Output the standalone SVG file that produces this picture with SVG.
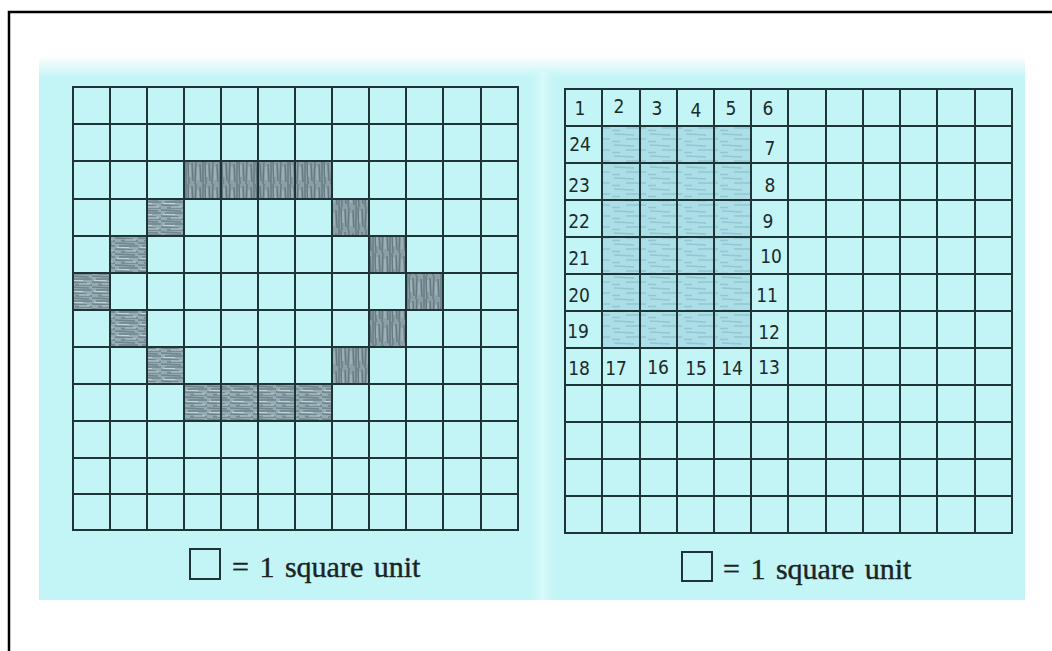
<svg xmlns="http://www.w3.org/2000/svg" width="1052" height="651" viewBox="0 0 1052 651">
<defs>
<linearGradient id="bgfade" gradientUnits="userSpaceOnUse" x1="0" y1="56" x2="0" y2="78">
<stop offset="0" stop-color="#ffffff"/>
<stop offset="1" stop-color="#c3f4f6"/>
</linearGradient>
<linearGradient id="midstrip" gradientUnits="userSpaceOnUse" x1="526" y1="0" x2="560" y2="0">
<stop offset="0" stop-color="#c3f4f6" stop-opacity="0"/>
<stop offset="0.5" stop-color="#dafafa"/>
<stop offset="1" stop-color="#c3f4f6" stop-opacity="0"/>
</linearGradient>
<pattern id="darkhatch" patternUnits="userSpaceOnUse" width="17" height="23">
<rect width="17" height="23" fill="#8b9fa7"/>
<path d="M1 0L2 23M5 2L6 20M9 0L8 23M13 3L14 21M16 0V23" stroke="#667a83" stroke-width="1.4"/>
<path d="M3 4V16M11 6V19" stroke="#aec2c8" stroke-width="1"/>
</pattern>
<pattern id="hhatch" patternUnits="userSpaceOnUse" width="23" height="11">
<rect width="23" height="11" fill="#95acb4"/>
<path d="M0 1L20 2M4 4H23M0 7L18 8M6 10H23" stroke="#6f848d" stroke-width="1.3"/>
<path d="M2 5.5H14M10 9H21" stroke="#c0d3d7" stroke-width="1"/>
</pattern>
<pattern id="lighthatch" patternUnits="userSpaceOnUse" width="36" height="11">
<rect width="36" height="11" fill="#a9dce6"/>
<path d="M2 2L22 3M14 7H34M0 9.5H8" stroke="#8cc1ce" stroke-width="1.4"/>
</pattern>
<style>
.grid{stroke:#1e3436;stroke-width:2;fill:none;stroke-linecap:square}
.num{font-family:"DejaVu Sans Condensed","DejaVu Sans",sans-serif;font-size:19px;fill:#1c2a2b;text-anchor:middle}
.legend{font-family:"Liberation Serif","Times New Roman",serif;font-size:30px;fill:#1a2424;stroke:#1a2424;stroke-width:0.4;word-spacing:3px}
.lbox{fill:none;stroke:#1e3436;stroke-width:2}
</style>
</defs>

<rect x="0" y="0" width="1052" height="651" fill="#ffffff"/>
<rect x="39" y="56" width="986" height="544" fill="url(#bgfade)"/>
<rect x="526" y="70" width="34" height="530" fill="url(#midstrip)"/>
<rect x="9" y="12" width="1100" height="700" fill="none" stroke="#000" stroke-width="2.5"/>

<g id="left-panel">
<g id="left-shading">
<rect x="184" y="161" width="148" height="38" fill="url(#darkhatch)"/>
<rect x="147" y="199" width="37" height="37" fill="url(#hhatch)"/>
<rect x="332" y="199" width="37" height="37" fill="url(#darkhatch)"/>
<rect x="110" y="236" width="37" height="37" fill="url(#hhatch)"/>
<rect x="369" y="236" width="37" height="37" fill="url(#darkhatch)"/>
<rect x="73" y="273" width="37" height="37" fill="url(#hhatch)"/>
<rect x="406" y="273" width="37" height="37" fill="url(#darkhatch)"/>
<rect x="110" y="310" width="37" height="37" fill="url(#hhatch)"/>
<rect x="369" y="310" width="37" height="37" fill="url(#darkhatch)"/>
<rect x="147" y="347" width="37" height="37" fill="url(#hhatch)"/>
<rect x="332" y="347" width="37" height="37" fill="url(#darkhatch)"/>
<rect x="184" y="384" width="148" height="37" fill="url(#hhatch)"/>
</g>
<g id="left-grid" class="grid">
<path d="M73 87V530M110 87V530M147 87V530M184 87V530M221 87V530M258 87V530M295 87V530M332 87V530M369 87V530M406 87V530M443 87V530M481 87V530M518 87V530"/>
<path d="M73 87H518M73 124H518M73 161H518M73 199H518M73 236H518M73 273H518M73 310H518M73 347H518M73 384H518M73 421H518M73 458H518M73 494H518M73 530H518"/>
</g>
<g id="left-legend">
<rect class="lbox" x="190" y="549" width="30" height="30"/>
<text class="legend" x="232" y="577">= 1 square unit</text>
</g>
</g>

<g id="right-panel">
<g id="right-shading">
<rect x="602" y="127" width="149" height="222" fill="url(#lighthatch)" opacity="0.9"/>
</g>
<g id="right-grid" class="grid">
<path d="M565 89V533M602 89V533M640 89V533M677 89V533M714 89V533M751 89V533M788 89V533M826 89V533M863 89V533M900 89V533M937 89V533M975 89V533M1012 89V533"/>
<path d="M565 89H1012M565 126H1012M565 163H1012M565 200H1012M565 237H1012M565 274H1012M565 311H1012M565 348H1012M565 385H1012M565 422H1012M565 459H1012M565 496H1012M565 533H1012"/>
</g>
<g id="right-numbers">
<text class="num" x="580" y="115">1</text>
<text class="num" x="619" y="113">2</text>
<text class="num" x="657" y="115">3</text>
<text class="num" x="696" y="117">4</text>
<text class="num" x="731" y="115">5</text>
<text class="num" x="768" y="115">6</text>
<text class="num" x="580" y="151">24</text>
<text class="num" x="770" y="155">7</text>
<text class="num" x="579" y="192">23</text>
<text class="num" x="770" y="192">8</text>
<text class="num" x="579" y="228">22</text>
<text class="num" x="768" y="228">9</text>
<text class="num" x="579" y="265">21</text>
<text class="num" x="771" y="263">10</text>
<text class="num" x="579" y="302">20</text>
<text class="num" x="767" y="302">11</text>
<text class="num" x="578" y="338">19</text>
<text class="num" x="769" y="339">12</text>
<text class="num" x="579" y="375">18</text>
<text class="num" x="616" y="375">17</text>
<text class="num" x="658" y="374">16</text>
<text class="num" x="696" y="375">15</text>
<text class="num" x="732" y="375">14</text>
<text class="num" x="769" y="374">13</text>
</g>
<g id="right-legend">
<rect class="lbox" x="682" y="552" width="30" height="29"/>
<text class="legend" x="723" y="579">= 1 square unit</text>
</g>
</g>
</svg>
